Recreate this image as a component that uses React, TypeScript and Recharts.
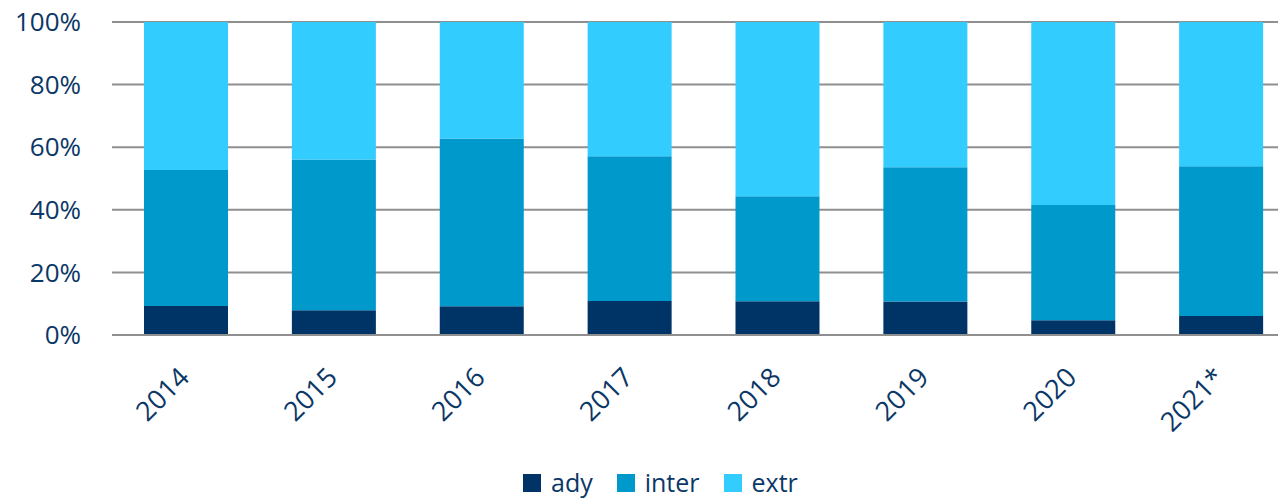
import { Bar, BarChart, CartesianGrid, XAxis, YAxis } from 'recharts'

// Share of each category per year, in percent.
const years = ['2014', '2015', '2016', '2017', '2018', '2019', '2020', '2021*']
const ady = [9.3, 7.9, 9.2, 10.9, 10.8, 10.7, 4.7, 6.1]
const inter = [43.4, 48.2, 53.6, 46.2, 33.5, 42.9, 36.8, 47.8]
const extr = [47.3, 43.9, 37.2, 42.9, 55.7, 46.4, 58.5, 46.1]
const yTicks = [0, 20, 40, 60, 80, 100]

const series = [
  { key: 'ady', color: '#003366' },
  { key: 'inter', color: '#0099CC' },
  { key: 'extr', color: '#33CCFF' },
]

const data = years.map((year, i) => ({
  year,
  ady: ady[i],
  inter: inter[i],
  extr: extr[i],
}))

const TEXT = '#0B3766'
const GRID = '#8f8f8f'
const FONT = '"Open Sans", sans-serif'

function YearTick({ x, y, payload }: { x: number; y: number; payload: { value: string } }) {
  const ax = x + 5
  const ay = y + 44
  return (
    <text
      x={ax}
      y={ay}
      transform={`rotate(-45, ${ax}, ${ay})`}
      textAnchor="end"
      fill={TEXT}
      fontSize={27}
      fontFamily={FONT}
    >
      {payload.value}
    </text>
  )
}

export default function App() {
  return (
    <div
      style={{
        position: 'absolute',
        left: 0,
        top: 0,
        width: 1278,
        height: 501,
        overflow: 'hidden',
        background: '#fff',
        fontFamily: FONT,
      }}
    >
      <BarChart
        width={1300}
        height={501}
        data={data}
        margin={{ top: 22, right: 5, bottom: 46, left: 0 }}
      >
        <CartesianGrid vertical={false} stroke={GRID} strokeWidth={2} />
        <XAxis
          dataKey="year"
          height={120}
          tickLine={false}
          tickSize={0}
          tickMargin={0}
          axisLine={{ stroke: GRID, strokeWidth: 2 }}
          interval={0}
          tick={YearTick}
        />
        <YAxis
          width={112}
          domain={[0, 100]}
          ticks={yTicks}
          tickFormatter={(v) => `${v}%`}
          axisLine={false}
          tickLine={false}
          tickSize={0}
          tickMargin={31}
          tick={{ fill: TEXT, fontSize: 26, fontFamily: FONT }}
        />
        {series.map((s) => (
          <Bar
            key={s.key}
            dataKey={s.key}
            stackId="a"
            fill={s.color}
            barSize={84}
            isAnimationActive={false}
          />
        ))}
      </BarChart>

      <div
        style={{
          position: 'absolute',
          left: 523,
          top: 469,
          display: 'flex',
          alignItems: 'center',
          gap: 24,
          color: TEXT,
          fontSize: 25,
          lineHeight: '27px',
        }}
      >
        {series.map((s) => (
          <span key={s.key} style={{ display: 'flex', alignItems: 'center', gap: 10 }}>
            <span style={{ width: 18, height: 18, background: s.color, display: 'inline-block' }} />
            {s.key}
          </span>
        ))}
      </div>
    </div>
  )
}
